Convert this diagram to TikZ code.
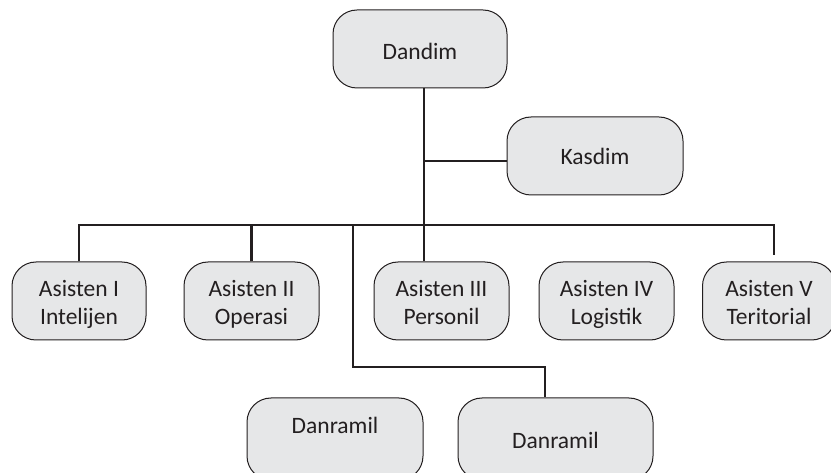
\documentclass[tikz,border=0pt]{standalone}
\usepackage{fontspec}
\setmainfont{Carlito}
\definecolor{boxfill}{RGB}{230,231,232}
\definecolor{ink}{RGB}{35,31,32}
\begin{document}
\begin{tikzpicture}[x=1pt,y=-1pt,
  unit/.style={draw=ink, fill=boxfill, line width=1pt, rounded corners=24pt,
    inner sep=0pt, text=ink, font=\fontsize{23.5}{28}\selectfont, align=center},
  asst/.style={unit, minimum width=134pt, minimum height=78pt, text height=63pt, text depth=15pt},
  link/.style={draw=ink, line width=2.5pt}]
\useasboundingbox (0,0) rectangle (831,473);
\clip (0,0) rectangle (831,473);
\node[unit, minimum width=174pt, minimum height=78pt, text height=50pt, text depth=28pt] (dandim) at (420,49) {Dandim};
\node[unit, minimum width=176pt, minimum height=78pt, text height=48pt, text depth=30pt] (kasdim) at (595,156) {Kasdim};
\node[asst] (a1) at (79,301) {Asisten I\\Intelijen};
\node[asst, minimum width=135pt] (a2) at (251.5,301) {Asisten II\\Operasi};
\node[asst, minimum width=135pt] (a3) at (441.5,301) {Asisten III\\Personil};
\node[asst, minimum width=135pt] (a4) at (606.5,301) {Asisten IV\\Logistik};
\node[asst, minimum width=133pt] (a5) at (769,301) {Asisten V\\Teritorial};
\node[unit, minimum width=176pt, minimum height=82pt, text height=35pt, text depth=47pt] (dr1) at (335,439) {Danramil};
\node[unit, minimum width=195pt, minimum height=82pt, text height=50pt, text depth=32pt] (dr2) at (555.5,439) {Danramil};
\coordinate (trunk) at (424,225);
\coordinate (kasjoint) at (424,161);
\coordinate (barR) at (774,225);
\coordinate (a5top) at (774,255);
\coordinate (drsplit) at (353,225);
\coordinate (drbend) at (545,367);
\draw[link] (dandim.south -| trunk) -- (a3.north -| trunk);
\draw[link] (kasjoint) -- (kasdim.west |- kasjoint);
\draw[link] (a1.north) |- (barR) -- (a5top);
\draw[link] (a2.north) -- (a2.north |- trunk);
\draw[link] (drsplit) |- (drbend) -- (drbend |- dr2.north);
\end{tikzpicture}
\end{document}
